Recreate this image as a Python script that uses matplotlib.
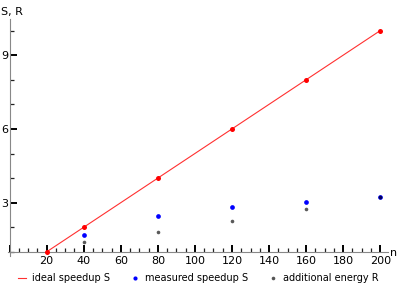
import matplotlib
matplotlib.use("Agg")
import matplotlib.pyplot as plt
from matplotlib.lines import Line2D
from matplotlib.ticker import MultipleLocator

# data
n_ideal = [20, 40, 80, 120, 160, 200]
s_ideal = [1, 2, 4, 6, 8, 10]
n_meas = [40, 80, 120, 160, 200]
s_meas = [1.68, 2.47, 2.83, 3.02, 3.22]
r_energy = [1.42, 1.79, 2.24, 2.76, 3.22]

x_ticks = [0, 20, 40, 60, 80, 100, 120, 140, 160, 180, 200]
x_labels = [""] + [str(v) for v in x_ticks[1:]]
y_ticks = [3, 6, 9]

plt.rcParams['font.family'] = 'DejaVu Sans'
plt.rcParams['font.size'] = 8

fig = plt.figure(figsize=(3.99, 2.88), dpi=100)
ax = fig.add_axes([0.0193, 0.111, 0.9524, 0.823])

ax.plot(n_ideal[:1] + n_ideal[-1:], s_ideal[:1] + s_ideal[-1:], color='#ff3030', lw=0.8, zorder=2)
ax.plot(n_ideal, s_ideal, 'o', color='red', ms=3.6, mec='none', zorder=3)
ax.plot(n_meas, s_meas, 'o', color='#0000ff', ms=3.4, mec='none', zorder=3)
ax.plot(n_meas, r_energy, 'o', color='black', alpha=0.65, ms=2.6, mec='none', zorder=4)

ax.set_xlim(-1, 204)
ax.set_ylim(0.83, 10.47)

for s in ['top', 'right']:
    ax.spines[s].set_visible(False)
ax.spines['left'].set_position(('data', 0))
ax.spines['bottom'].set_position(('data', 1))
for s in ['left', 'bottom']:
    ax.spines[s].set_color('#888888')
    ax.spines[s].set_linewidth(0.8)

ax.set_xticks(x_ticks)
ax.set_xticklabels(x_labels)
ax.xaxis.set_minor_locator(MultipleLocator(5))
ax.set_yticks(y_ticks)
ax.set_yticklabels([str(v) for v in y_ticks])
ax.yaxis.set_minor_locator(MultipleLocator(1))

ax.tick_params(which='major', direction='in', length=5.3, width=1.4, color='black', labelsize=8)
ax.tick_params(which='minor', direction='in', length=2.6, width=0.9, color='#222222')
ax.tick_params(axis='x', which='major', pad=3)
ax.tick_params(axis='y', which='major', pad=1)

fig.text(0.002, 0.975, "S, R", ha='left', va='top', fontsize=8)
fig.text(0.978, 0.122, "n", ha='left', va='center', fontsize=8)

handles = [
    Line2D([], [], color='#ff3030', lw=0.8),
    Line2D([], [], ls='none', marker='o', color='#0000ff', ms=3.0, mec='none'),
    Line2D([], [], ls='none', marker='o', color='#555555', ms=2.6, mec='none'),
]
labels = ["ideal speedup S", "measured speedup S", "additional energy R"]
fig.legend(handles, labels, loc='center', bbox_to_anchor=(0.497, 0.035), ncol=3,
           frameon=False, fontsize=7, handlelength=0.8, handletextpad=0.6,
           columnspacing=2.2, borderpad=0)

fig.savefig("out.png", dpi=100)
